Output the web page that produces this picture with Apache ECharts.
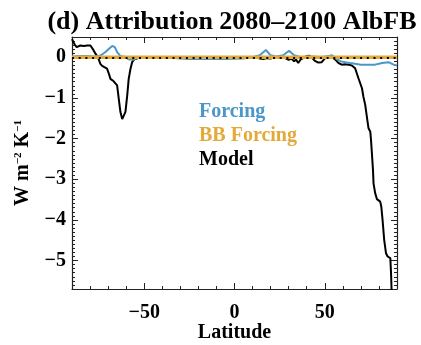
<!DOCTYPE html>
<html><head><meta charset="utf-8">
<script src="https://cdn.jsdelivr.net/npm/echarts@6/dist/echarts.min.js"></script>
<style>html,body{margin:0;padding:0;background:#fff}#c{width:421px;height:345px}</style>
</head><body><div id="c"></div>
<script>
const titleText = '(d) Attribution 2080\u20132100 AlbFB';
const seriesNames = ['Forcing', 'BB Forcing', 'Model'];
const xTickValues = [-50, 0, 50];
const yTickValues = [-5, -4, -3, -2, -1, 0];

const modelLat = [-90, -89.3, -88.4, -87.4, -86.5, -85.4, -83.5, -81.5, -79.8, -78.9, -78.0, -77.0, -76.1, -75.2, -74.3, -73.3, -72.4, -70.6, -69.6, -68.7, -67.6, -66.9, -65.9, -65.0, -64.1, -63.2, -62.2, -61.3, -60.4, -59.4, -58.6, -57.6, -56.7, -55.5, -54.5, -52, -40, -30, -20, -10, 0, 8, 10, 12, 14, 16, 18, 20, 22, 25, 28, 30, 31.5, 33, 34, 35.3, 36.5, 38, 40, 41.5, 43, 44.6, 46.4, 48.3, 50.2, 51.8, 53.5, 55.7, 57.6, 59.4, 61.3, 63.1, 65.0, 65.9, 66.8, 68.7, 70.6, 71.4, 72.4, 73.3, 74.2, 75.2, 75.6, 76.1, 76.7, 77.0, 77.9, 78.9, 80.7, 81.3, 82.0, 82.9, 83.9, 84.8, 86.3, 86.7, 87.0, 88.0];
const modelVal = [0.45, 0.38, 0.31, 0.25, 0.27, 0.29, 0.28, 0.29, 0.29, 0.26, 0.17, 0.09, 0.03, -0.05, -0.16, -0.21, -0.24, -0.28, -0.40, -0.53, -0.57, -0.59, -0.57, -0.69, -1.02, -1.34, -1.52, -1.55, -1.34, -0.93, -0.53, -0.28, -0.12, -0.05, -0.01, 0.0, 0.0, 0.0, 0.0, 0.0, 0.0, 0.0, -0.02, 0.01, -0.03, -0.04, -0.02, -0.03, 0.0, 0.0, -0.02, -0.06, -0.03, -0.10, -0.05, -0.14, -0.06, -0.02, 0.03, 0.04, -0.02, -0.09, -0.13, -0.12, -0.02, 0.0, 0.02, -0.05, -0.14, -0.18, -0.17, -0.18, -0.20, -0.23, -0.27, -0.52, -0.76, -0.97, -1.17, -1.46, -1.74, -1.83, -2.03, -2.36, -2.77, -3.10, -3.34, -3.49, -3.55, -3.67, -4.00, -4.49, -4.82, -4.90, -4.94, -5.31, -5.72, -6.0];

const forcingLat = [-90, -86, -82, -78, -75, -73, -71.5, -69.5, -67.7, -66.3, -65, -63.2, -60.4, -58.6, -56, -54, -50, -40, -30, -25, -15, -5, 5, 10, 14, 17.4, 20, 23, 27, 30.2, 33, 37, 40, 44, 48, 52, 54, 56.7, 59, 61.3, 64, 66.8, 70, 72.4, 75, 77.9, 80, 81.7, 85.3, 88.1, 90];
const forcingVal = [0.02, 0.03, 0.03, 0.02, 0.03, 0.08, 0.13, 0.21, 0.28, 0.25, 0.13, 0.03, 0.01, -0.05, -0.06, -0.01, 0.0, 0.0, -0.03, -0.04, -0.04, -0.04, -0.03, 0.0, 0.05, 0.18, 0.05, 0.02, 0.05, 0.16, 0.05, 0.0, 0.02, 0.02, 0.0, 0.03, 0.05, -0.05, -0.10, -0.12, -0.14, -0.16, -0.18, -0.18, -0.18, -0.18, -0.16, -0.14, -0.12, -0.18, -0.20];

const bbLat = [-90, -80, -70, -60, -50, -40, -30, -20, -10, 0, 10, 20, 30, 40, 50, 60, 70, 80, 90];
const bbVal = [0, 0, 0, 0, 0, 0, 0, 0, 0, 0, 0, 0, 0, 0, 0, 0, 0, 0, 0];

const colors = { 'Forcing': '#4a97c9', 'BB Forcing': '#e3aa3a', 'Model': '#000000' };
const serif = 'Liberation Serif';
const zip = (a, b) => a.map((v, i) => [v, b[i]]);
const fmt = v => String(v).replace('-', '\u2212');
const axisColor = '#222';
const lbl = { fontFamily: serif, fontWeight: 'bold', fontSize: 20, color: '#000' };

function xAx(pos, major, withLabels) {
  const a = {
    type: 'value', min: -90, max: 90, interval: 10, position: pos,
    axisLine: { show: !major, onZero: false, lineStyle: { color: axisColor, width: 1.2 } },
    axisTick: { show: true, inside: true, length: major ? 6 : 3, lineStyle: { color: axisColor, width: 1 } },
    axisLabel: { show: false },
    splitLine: { show: false }
  };
  if (major) a.axisTick.customValues = xTickValues;
  if (withLabels) {
    a.axisLabel = Object.assign({ show: true, customValues: xTickValues, formatter: fmt, margin: 14 }, lbl);
    a.name = 'Latitude';
    a.nameLocation = 'middle';
    a.nameGap = 34;
    a.nameMoveOverlap = false;
    a.nameTextStyle = Object.assign({}, lbl);
  }
  return a;
}
function yAx(pos, major, withLabels) {
  const a = {
    type: 'value', min: -5.7, max: 0.5, interval: 0.1, position: pos,
    axisLine: { show: !major, onZero: false, lineStyle: { color: axisColor, width: 1.2 } },
    axisTick: { show: true, inside: true, length: major ? 6 : 3, lineStyle: { color: axisColor, width: 1 } },
    axisLabel: { show: false },
    splitLine: { show: false }
  };
  if (major) a.axisTick.customValues = yTickValues;
  if (withLabels) {
    a.axisLabel = Object.assign({ show: true, customValues: yTickValues, formatter: fmt, margin: 6 }, lbl);
    a.name = 'W m{s|\u22122} K{s|\u22121}';
    a.nameLocation = 'middle';
    a.nameGap = 39;
    a.nameMoveOverlap = false;
    a.nameRotate = 90;
    a.nameTextStyle = Object.assign({}, lbl, { rich: { s: { fontFamily: serif, fontSize: 11, verticalAlign: 'top', color: '#000' } } });
  }
  return a;
}

const chart = echarts.init(document.getElementById('c'), null, { renderer: 'canvas' });
chart.setOption({
  animation: false,
  backgroundColor: '#fff',
  title: {
    text: titleText, left: 227, top: 4, textAlign: 'center',
    textStyle: { fontFamily: serif, fontWeight: 'bold', fontSize: 26, color: '#000' }
  },
  grid: { left: 72, right: 24, top: 37, bottom: 56, containLabel: false, outerBoundsMode: 'none' },
  legend: {
    orient: 'vertical', left: 189, top: 97, icon: 'none', itemWidth: 0, itemHeight: 10, itemGap: 4,
    selectedMode: false,
    textStyle: { fontFamily: serif, fontWeight: 'bold', fontSize: 20, lineHeight: 20 },
    data: seriesNames.map(n => ({ name: n, textStyle: { color: colors[n] } }))
  },
  xAxis: [xAx('bottom', false, false), xAx('bottom', true, true), xAx('top', false, false), xAx('top', true, false)],
  yAxis: [yAx('left', false, false), yAx('left', true, true), yAx('right', false, false), yAx('right', true, false)],
  series: [
    { name: 'Model', type: 'line', xAxisIndex: 0, yAxisIndex: 0, data: zip(modelLat, modelVal), symbol: 'none', clip: true,
      lineStyle: { color: colors['Model'], width: 2 }, itemStyle: { color: colors['Model'] } },
    { name: 'Forcing', type: 'line', xAxisIndex: 0, yAxisIndex: 0, data: zip(forcingLat, forcingVal), symbol: 'none', clip: true,
      lineStyle: { color: colors['Forcing'], width: 2 }, itemStyle: { color: colors['Forcing'] } },
    { name: 'BB Forcing', type: 'line', xAxisIndex: 0, yAxisIndex: 0, data: zip(bbLat, bbVal), symbol: 'none', clip: true,
      lineStyle: { color: colors['BB Forcing'], width: 3.5 }, itemStyle: { color: colors['BB Forcing'] },
      markLine: { silent: true, symbol: 'none', label: { show: false },
        lineStyle: { color: '#000', width: 2, type: [2, 4.7] }, data: [{ yAxis: 0 }] } }
  ]
});
</script>
</body></html>
